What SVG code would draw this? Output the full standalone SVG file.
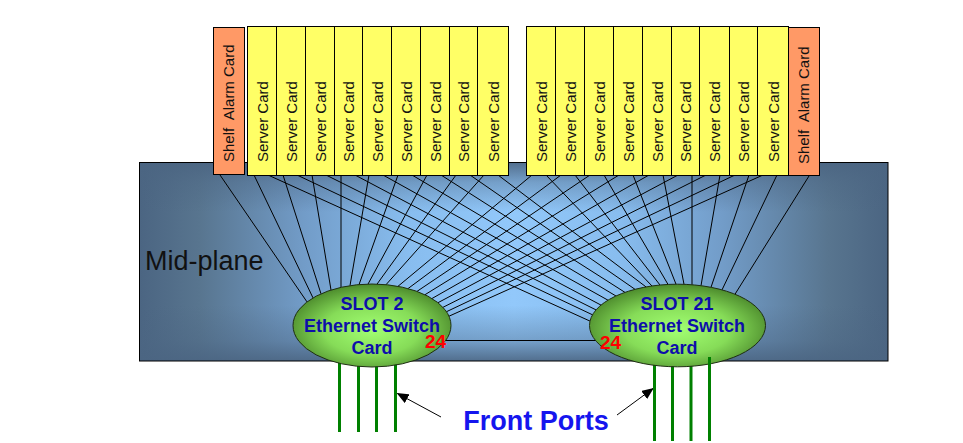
<svg xmlns="http://www.w3.org/2000/svg" width="963" height="443" viewBox="0 0 963 443">
<style>
.srv{fill:#ffff66;stroke:#000;stroke-width:1}
.shelf{fill:#ff9966;stroke:#000;stroke-width:1}
.ct{font-family:"Liberation Sans",Arial,sans-serif;font-size:15px;fill:#111}
#connectors line{stroke:#000;stroke-width:1}
.port{stroke:#008000;stroke-width:3}
.sw{stroke:#1e2e12;stroke-width:1}
.lbl{font-family:"Liberation Sans",Arial,sans-serif;font-weight:bold;font-size:18px;fill:#0e0eaa;text-anchor:middle}
.num{font-family:"Liberation Sans",Arial,sans-serif;font-weight:bold;font-size:19px;fill:#ff0000}
</style>
<defs>
<linearGradient id="mpH" x1="0" y1="0" x2="1" y2="0">
<stop offset="0" stop-color="#4b6582"/>
<stop offset="0.08" stop-color="#58758f"/>
<stop offset="0.22" stop-color="#729cc8"/>
<stop offset="0.36" stop-color="#88bdef"/>
<stop offset="0.5" stop-color="#92c8fa"/>
<stop offset="0.64" stop-color="#88bdef"/>
<stop offset="0.78" stop-color="#729cc8"/>
<stop offset="0.92" stop-color="#58758f"/>
<stop offset="1" stop-color="#4b6582"/>
</linearGradient>
<linearGradient id="mpV" x1="0" y1="0" x2="0" y2="1">
<stop offset="0" stop-color="#4b6582" stop-opacity="0.9"/>
<stop offset="0.1" stop-color="#4b6582" stop-opacity="0.4"/>
<stop offset="0.25" stop-color="#4b6582" stop-opacity="0"/>
<stop offset="0.72" stop-color="#4b6582" stop-opacity="0"/>
<stop offset="0.9" stop-color="#4b6582" stop-opacity="0.4"/>
<stop offset="1" stop-color="#4b6582" stop-opacity="0.9"/>
</linearGradient>
<radialGradient id="green" cx="0.5" cy="0.55" r="0.55">
<stop offset="0" stop-color="#a2ff72"/>
<stop offset="0.55" stop-color="#86dc58"/>
<stop offset="1" stop-color="#4c8a2c"/>
</radialGradient>
<marker id="arr" markerWidth="12" markerHeight="10" refX="11" refY="5" orient="auto" markerUnits="userSpaceOnUse">
<path d="M0,0 L12,5 L0,10 z" fill="#000"/>
</marker>
</defs>

<g id="midplane">
<rect x="139.5" y="162.5" width="748.5" height="198.5" fill="url(#mpH)"/>
<rect x="139.5" y="162.5" width="748.5" height="198.5" fill="url(#mpV)" stroke="#000" stroke-width="1"/>
<text x="145" y="270" font-family="Liberation Sans, Arial, sans-serif" font-size="27" fill="#111">Mid-plane</text>
</g>

<g id="connectors">
<line x1="220" y1="175" x2="307" y2="301.9"/>
<line x1="254" y1="175" x2="313" y2="297.9"/>
<line x1="283" y1="175" x2="321" y2="293.8"/>
<line x1="312" y1="175" x2="331" y2="290"/>
<line x1="341" y1="175" x2="341" y2="287.3"/>
<line x1="369" y1="175" x2="350" y2="285.6"/>
<line x1="398" y1="175" x2="359" y2="284.7"/>
<line x1="427" y1="175" x2="368" y2="284.1"/>
<line x1="456" y1="175" x2="377" y2="284.1"/>
<line x1="484" y1="175" x2="386" y2="284.7"/>
<line x1="532" y1="175" x2="398" y2="286.3"/>
<line x1="561" y1="175" x2="408" y2="288.6"/>
<line x1="590" y1="175" x2="417" y2="291.4"/>
<line x1="619" y1="175" x2="425" y2="294.7"/>
<line x1="649" y1="175" x2="432" y2="298.5"/>
<line x1="678" y1="175" x2="438" y2="302.7"/>
<line x1="706" y1="175" x2="443" y2="307.3"/>
<line x1="735" y1="175" x2="446.5" y2="311.7"/>
<line x1="763" y1="175" x2="449" y2="316.2"/>
<line x1="268" y1="175" x2="590" y2="321.1"/>
<line x1="297" y1="175" x2="592.5" y2="314.8"/>
<line x1="326" y1="175" x2="596" y2="309.9"/>
<line x1="355" y1="175" x2="601" y2="305.1"/>
<line x1="383" y1="175" x2="608" y2="300.2"/>
<line x1="412" y1="175" x2="616" y2="296"/>
<line x1="441" y1="175" x2="625" y2="292.4"/>
<line x1="470" y1="175" x2="635" y2="289.3"/>
<line x1="498" y1="175" x2="646" y2="286.9"/>
<line x1="546" y1="175" x2="652" y2="286"/>
<line x1="575" y1="175" x2="660" y2="285"/>
<line x1="604" y1="175" x2="668" y2="284.4"/>
<line x1="633" y1="175" x2="676" y2="284.2"/>
<line x1="663" y1="175" x2="684" y2="284.3"/>
<line x1="692" y1="175" x2="692" y2="284.8"/>
<line x1="720" y1="175" x2="701" y2="285.7"/>
<line x1="749" y1="175" x2="711" y2="287.3"/>
<line x1="777" y1="175" x2="722" y2="289.9"/>
<line x1="809" y1="176" x2="735" y2="294.2"/>
<line x1="440" y1="340.5" x2="600" y2="340.5"/>
<line x1="441" y1="417" x2="397.5" y2="393.5" marker-end="url(#arr)"/>
<line x1="617" y1="415" x2="653" y2="388.5" marker-end="url(#arr)"/>
</g>

<g id="front-ports-left">
<line class="port" x1="339.5" y1="355" x2="339.5" y2="432"/>
<line class="port" x1="358.5" y1="355" x2="358.5" y2="432"/>
<line class="port" x1="376.5" y1="355" x2="376.5" y2="432"/>
<line class="port" x1="395.5" y1="355" x2="395.5" y2="432"/>
</g>
<g id="front-ports-right">
<line class="port" x1="654.5" y1="355" x2="654.5" y2="441"/>
<line class="port" x1="672.5" y1="355" x2="672.5" y2="441"/>
<line class="port" x1="691" y1="355" x2="691" y2="441"/>
</g>

<g id="slot2">
<ellipse class="sw" cx="372" cy="325.5" rx="79" ry="41.5" fill="url(#green)"/>
<text class="lbl" x="372" y="310">SLOT 2</text>
<text class="lbl" x="372" y="332">Ethernet Switch</text>
<text class="lbl" x="372" y="354">Card</text>
<text class="num" x="425" y="348">24</text>
</g>
<g id="slot21">
<ellipse class="sw" cx="677.5" cy="325.5" rx="88" ry="41.3" fill="url(#green)"/>
<text class="lbl" x="677" y="310">SLOT 21</text>
<text class="lbl" x="677" y="332">Ethernet Switch</text>
<text class="lbl" x="677" y="354">Card</text>
<text class="num" x="600" y="349">24</text>
<line class="port" x1="709.5" y1="357" x2="709.5" y2="441"/>
</g>

<g id="shelf-alarm-left">
<rect class="shelf" x="213.5" y="27.5" width="31" height="147"/>
<text class="ct" xml:space="preserve" style="white-space:pre" transform="translate(234,162) rotate(-90)">Shelf  Alarm Card</text>
</g>
<g id="server-l1"><rect class="srv" x="247.5" y="26.5" width="29" height="149"/><text class="ct" transform="translate(267.5,162) rotate(-90)">Server Card</text></g>
<g id="server-l2"><rect class="srv" x="276.5" y="26.5" width="29" height="149"/><text class="ct" transform="translate(296.5,162) rotate(-90)">Server Card</text></g>
<g id="server-l3"><rect class="srv" x="305.5" y="26.5" width="29" height="149"/><text class="ct" transform="translate(325.5,162) rotate(-90)">Server Card</text></g>
<g id="server-l4"><rect class="srv" x="334.5" y="26.5" width="28" height="149"/><text class="ct" transform="translate(354,162) rotate(-90)">Server Card</text></g>
<g id="server-l5"><rect class="srv" x="362.5" y="26.5" width="29" height="149"/><text class="ct" transform="translate(382.5,162) rotate(-90)">Server Card</text></g>
<g id="server-l6"><rect class="srv" x="391.5" y="26.5" width="29" height="149"/><text class="ct" transform="translate(411.5,162) rotate(-90)">Server Card</text></g>
<g id="server-l7"><rect class="srv" x="420.5" y="26.5" width="29" height="149"/><text class="ct" transform="translate(440.5,162) rotate(-90)">Server Card</text></g>
<g id="server-l8"><rect class="srv" x="449.5" y="26.5" width="28" height="149"/><text class="ct" transform="translate(469,162) rotate(-90)">Server Card</text></g>
<g id="server-l9"><rect class="srv" x="477.5" y="26.5" width="31" height="149"/><text class="ct" transform="translate(498.5,162) rotate(-90)">Server Card</text></g>

<g id="server-r1"><rect class="srv" x="526.5" y="26.5" width="29" height="149"/><text class="ct" transform="translate(546.5,162) rotate(-90)">Server Card</text></g>
<g id="server-r2"><rect class="srv" x="555.5" y="26.5" width="29" height="149"/><text class="ct" transform="translate(575.5,162) rotate(-90)">Server Card</text></g>
<g id="server-r3"><rect class="srv" x="584.5" y="26.5" width="29" height="149"/><text class="ct" transform="translate(604.5,162) rotate(-90)">Server Card</text></g>
<g id="server-r4"><rect class="srv" x="613.5" y="26.5" width="29" height="149"/><text class="ct" transform="translate(633.5,162) rotate(-90)">Server Card</text></g>
<g id="server-r5"><rect class="srv" x="642.5" y="26.5" width="29" height="149"/><text class="ct" transform="translate(662.5,162) rotate(-90)">Server Card</text></g>
<g id="server-r6"><rect class="srv" x="671.5" y="26.5" width="28" height="149"/><text class="ct" transform="translate(691,162) rotate(-90)">Server Card</text></g>
<g id="server-r7"><rect class="srv" x="699.5" y="26.5" width="30" height="149"/><text class="ct" transform="translate(720,162) rotate(-90)">Server Card</text></g>
<g id="server-r8"><rect class="srv" x="729.5" y="26.5" width="28" height="149"/><text class="ct" transform="translate(749,162) rotate(-90)">Server Card</text></g>
<g id="server-r9"><rect class="srv" x="757.5" y="26.5" width="31" height="149"/><text class="ct" transform="translate(778.5,162) rotate(-90)">Server Card</text></g>
<g id="shelf-alarm-right">
<rect class="shelf" x="788.5" y="27.5" width="31" height="148"/>
<text class="ct" xml:space="preserve" style="white-space:pre" transform="translate(809,164) rotate(-90)">Shelf  Alarm Card</text>
</g>

<g id="front-ports-label">
<text x="536" y="430" font-family="Liberation Sans, Arial, sans-serif" font-weight="bold" font-size="27" fill="#1515ee" text-anchor="middle">Front Ports</text>
</g>
</svg>
